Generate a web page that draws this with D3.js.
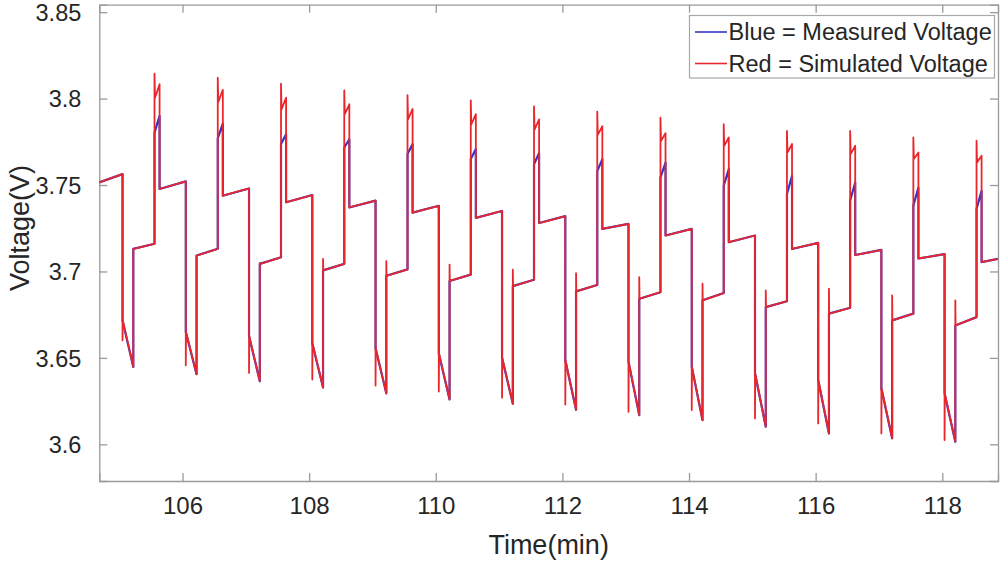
<!DOCTYPE html>
<html><head><meta charset="utf-8">
<script src="https://cdn.jsdelivr.net/npm/d3@7"></script>
<style>
html,body{margin:0;padding:0;background:#fff;}
svg{display:block;}
text{font-family:"Liberation Sans",Arial,sans-serif;fill:#262626;}
</style></head>
<body>
<svg id="c" width="1000" height="563"></svg>
<script>
// ---------- data ----------
const xTicks = [106, 108, 110, 112, 114, 116, 118];
const yTicks = [3.6, 3.65, 3.7, 3.75, 3.8, 3.85];
const xDomain = [104.686, 118.88];
const yDomain = [3.5788, 3.8543];

// time of each charge pulse (min)
const peakTimes = [105.558, 106.557, 107.556, 108.555, 109.554, 110.553, 111.552,
                   112.551, 113.549, 114.548, 115.547, 116.545, 117.543, 118.541];
// phase offsets relative to the charge pulse: discharge start, discharge end, charge end
const phaseOffsets = [-0.505, -0.335, 0.08];

// rest before the first discharge: value at axis start, value at discharge start
const initialRest = [3.7515, 3.7563];

const dischargeRedLow    = [3.6602, 3.6457, 3.6413, 3.6375, 3.6340, 3.6305, 3.6270, 3.6230, 3.6188, 3.6198, 3.6150, 3.6121, 3.6063, 3.6025];
const dischargeBlueStart = [3.6717, 3.6650, 3.6625, 3.6583, 3.6555, 3.6525, 3.6500, 3.6485, 3.6477, 3.6448, 3.6410, 3.6371, 3.6323, 3.6294];
const dischargeBottom    = [3.6448, 3.6406, 3.6365, 3.6329, 3.6295, 3.6260, 3.6235, 3.6200, 3.6169, 3.6140, 3.6102, 3.6063, 3.6035, 3.6015];
const lowRestRedSpike    = [3.7131, 3.7092, 3.7050, 3.7073, 3.7060, 3.7040, 3.7010, 3.6990, 3.6967, 3.6929, 3.6890, 3.6900, 3.6861, 3.6833];
const lowRestStart       = [3.7131, 3.7092, 3.7044, 3.7006, 3.6975, 3.6945, 3.6915, 3.6885, 3.6842, 3.6833, 3.6794, 3.6756, 3.6717, 3.6688];
const lowRestEnd         = [3.7160, 3.7131, 3.7082, 3.7044, 3.7012, 3.6982, 3.6952, 3.6922, 3.6880, 3.6875, 3.6828, 3.6790, 3.6756, 3.6736];
const chargeRedPeak      = [3.8144, 3.8121, 3.8086, 3.8048, 3.8020, 3.7990, 3.7955, 3.7925, 3.7890, 3.7852, 3.7813, 3.7813, 3.7775, 3.7756];
const chargeRedDip       = [3.8005, 3.7980, 3.7938, 3.7910, 3.7880, 3.7850, 3.7820, 3.7790, 3.7755, 3.7727, 3.7688, 3.7679, 3.7650, 3.7631];
const chargeRedEnd       = [3.8083, 3.8050, 3.8005, 3.7967, 3.7940, 3.7910, 3.7880, 3.7840, 3.7800, 3.7775, 3.7737, 3.7727, 3.7688, 3.7669];
const chargeBlueStart    = [3.7803, 3.7770, 3.7737, 3.7717, 3.7680, 3.7650, 3.7620, 3.7580, 3.7544, 3.7496, 3.7448, 3.7410, 3.7381, 3.7362];
const chargeBlueEnd      = [3.7900, 3.7855, 3.7794, 3.7765, 3.7737, 3.7708, 3.7685, 3.7650, 3.7630, 3.7592, 3.7554, 3.7515, 3.7486, 3.7467];
const highRestStart      = [3.7477, 3.7438, 3.7400, 3.7370, 3.7340, 3.7310, 3.7280, 3.7246, 3.7208, 3.7169, 3.7130, 3.7095, 3.7075, 3.7054];
const highRestEnd        = [3.7521, 3.7480, 3.7442, 3.7410, 3.7380, 3.7350, 3.7320, 3.7275, 3.7246, 3.7208, 3.7165, 3.7125, 3.7100, 3.7073];

const seriesNames = ["Blue = Measured Voltage", "Red = Simulated Voltage"];
const seriesColors = ["#3434c8", "#e8262b"];

// ---------- build series ----------
const eps = 0.004;
const blue = [], red = [];
blue.push([xDomain[0], initialRest[0]]);
red.push([xDomain[0], initialRest[0]]);
peakTimes.forEach((P, k) => {
  const ds = P + phaseOffsets[0], de = P + phaseOffsets[1], ce = P + phaseOffsets[2];
  const prevHigh = k === 0 ? initialRest[1] : highRestEnd[k - 1];
  const nextT = k < peakTimes.length - 1 ? peakTimes[k + 1] + phaseOffsets[0] : xDomain[1];
  blue.push([ds, prevHigh], [ds, dischargeBlueStart[k]], [de, dischargeBottom[k]],
            [de, lowRestStart[k]], [P, lowRestEnd[k]], [P, chargeBlueStart[k]],
            [ce, chargeBlueEnd[k]], [ce, highRestStart[k]], [nextT, highRestEnd[k]]);
  red.push([ds, prevHigh], [ds, dischargeRedLow[k]], [ds + eps, dischargeBlueStart[k]],
           [de, dischargeBottom[k]], [de, lowRestRedSpike[k]], [de + eps, lowRestStart[k]],
           [P, lowRestEnd[k]], [P, chargeRedPeak[k]], [P + eps * 2, chargeRedDip[k]],
           [ce, chargeRedEnd[k]], [ce, highRestStart[k]], [nextT, highRestEnd[k]]);
});

// ---------- layout ----------
const L = 99.3, R = 998, T = 4.7, B = 481;
const svg = d3.select("#c");
const x = d3.scaleLinear().domain(xDomain).range([L, R]);
const y = d3.scaleLinear().domain(yDomain).range([B, T]);

svg.append("defs").append("clipPath").attr("id", "clip")
  .append("rect").attr("x", L).attr("y", T - 1).attr("width", R - L).attr("height", B - T + 2);

const axisColor = "#9a9a9a";
const fs = 23.5;
const fsTitle = 27;

const gx = svg.append("g").attr("transform", `translate(0,${B})`)
  .call(d3.axisBottom(x).tickValues(xTicks).tickSize(-8).tickFormat(d3.format("d")).tickPadding(16));
const gy = svg.append("g").attr("transform", `translate(${L},0)`)
  .call(d3.axisLeft(y).tickValues(yTicks).tickSize(-8).tickFormat(d => String(+d.toFixed(2))).tickPadding(18));
const gt = svg.append("g").attr("transform", `translate(0,${T})`)
  .call(d3.axisTop(x).tickValues(xTicks).tickSize(-8).tickFormat(""));
const gr = svg.append("g").attr("transform", `translate(${R},0)`)
  .call(d3.axisRight(y).tickValues(yTicks).tickSize(-8).tickFormat(""));
[gx, gy, gt, gr].forEach(g => {
  g.selectAll("path.domain").attr("stroke", axisColor).attr("stroke-width", 1.3);
  g.selectAll(".tick line").attr("stroke", axisColor).attr("stroke-width", 1.3);
  g.selectAll(".tick text").attr("font-size", fs).attr("fill", "#262626")
    .style("font-family", '"Liberation Sans", Arial, sans-serif');
});
gx.selectAll(".tick text").attr("font-size", fs + 0.5);
gy.selectAll(".tick text").attr("dy", "0.35em");

const line = d3.line().x(d => x(d[0])).y(d => y(d[1]));
const plot = svg.append("g").attr("clip-path", "url(#clip)");
plot.append("path").datum(blue).attr("d", line).attr("fill", "none")
  .attr("stroke", seriesColors[0]).attr("stroke-width", 2.2).attr("stroke-linejoin", "round");
plot.append("path").datum(red).attr("d", line).attr("fill", "none")
  .attr("stroke", seriesColors[1]).attr("stroke-width", 1.8).attr("stroke-linejoin", "round");

svg.append("text").attr("x", (L + R) / 2).attr("y", 554).attr("text-anchor", "middle")
  .attr("font-size", fsTitle).text("Time(min)");
svg.append("text").attr("transform", "translate(29,228) rotate(-90)").attr("text-anchor", "middle")
  .attr("font-size", fsTitle).text("Voltage(V)");

const lg = svg.append("g");
lg.append("rect").attr("x", 689.5).attr("y", 15.5).attr("width", 305).attr("height", 62.5)
  .attr("fill", "#fff").attr("stroke", "#a8a8a8").attr("stroke-width", 1.2);
seriesNames.forEach((name, i) => {
  const cy = 32 + i * 31.5;
  lg.append("line").attr("x1", 695).attr("x2", 727).attr("y1", cy).attr("y2", cy)
    .attr("stroke", seriesColors[i]).attr("stroke-width", 1.6);
  lg.append("text").attr("x", 728.5).attr("y", cy).attr("dy", "0.35em")
    .attr("font-size", fs).text(name);
});
</script>
</body></html>
